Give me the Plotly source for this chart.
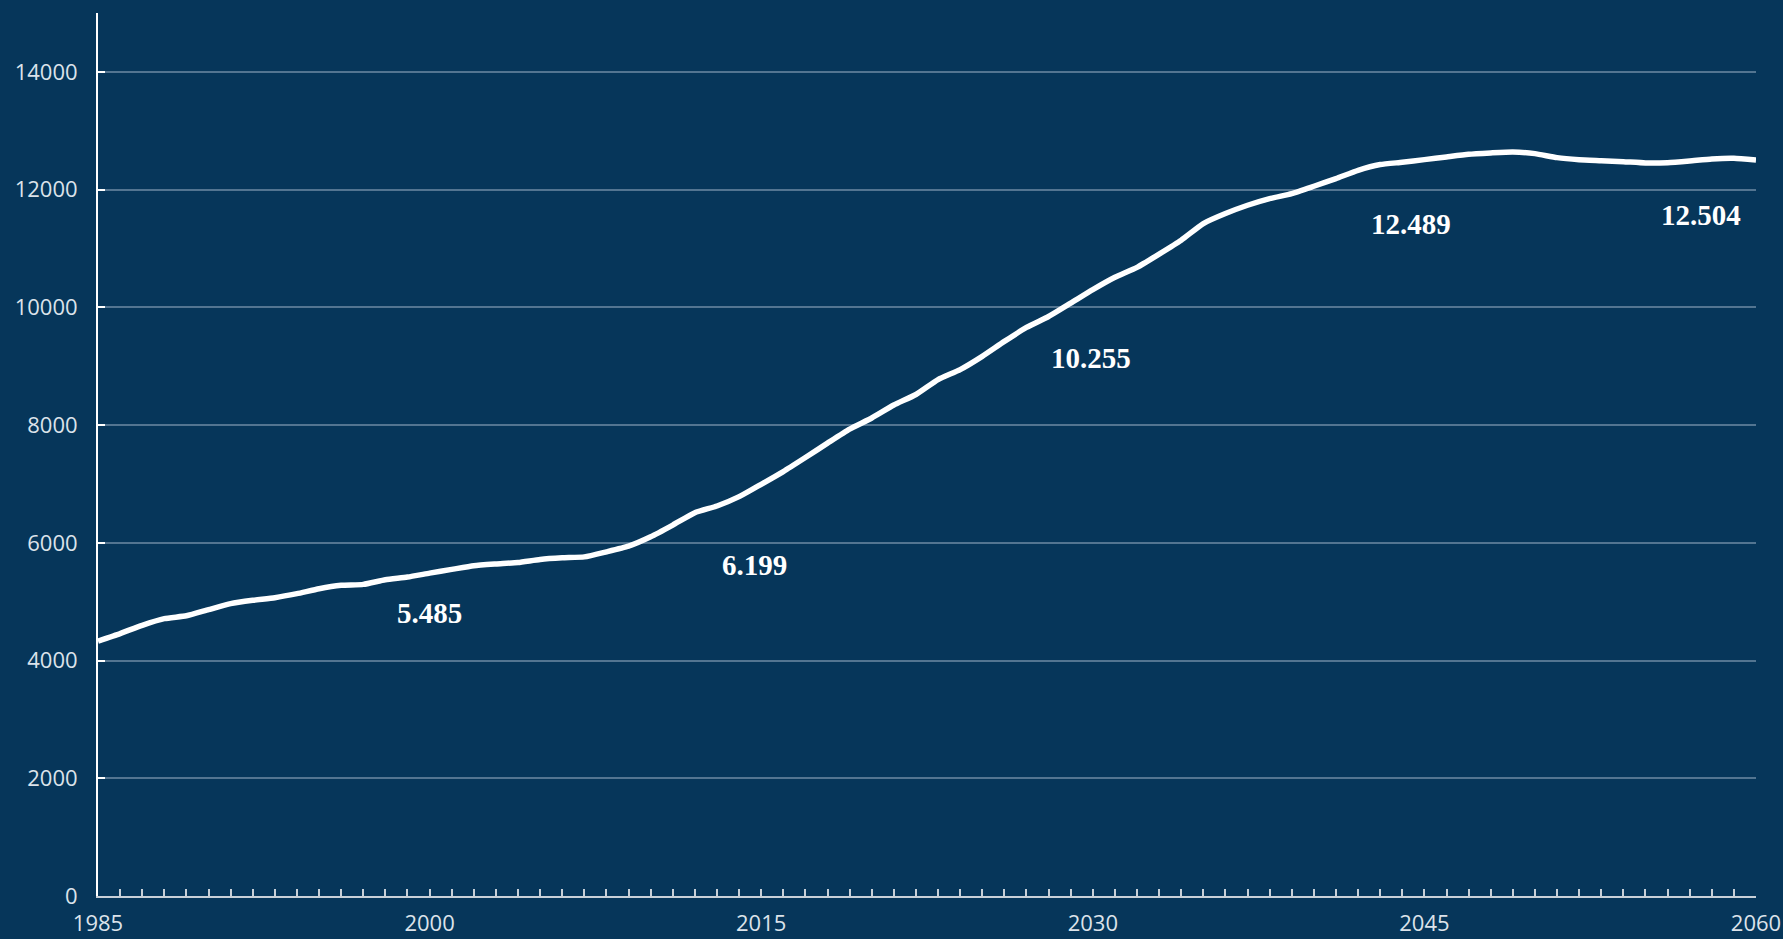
import plotly.graph_objects as go

years = list(range(1985, 2061))
values = [
    4330, 4458, 4599, 4712, 4760, 4864, 4966, 5023, 5068, 5136,
    5220, 5277, 5294, 5373, 5418, 5485, 5548, 5610, 5640, 5665,
    5716, 5744, 5761, 5847, 5943, 6102, 6301, 6511, 6625, 6784,
    6994, 7210, 7448, 7693, 7931, 8120, 8340, 8519, 8773, 8942,
    9167, 9421, 9658, 9844, 10070, 10300, 10510, 10679, 10905, 11141,
    11423, 11593, 11734, 11847, 11932, 12057, 12187, 12328, 12425, 12464,
    12509, 12555, 12600, 12623, 12640, 12611, 12543, 12509, 12492, 12475,
    12453, 12458, 12487, 12521, 12532, 12504,
]

label_texts = ["5.485", "6.199", "10.255", "12.489", "12.504"]
label_x = [2000.0, 2014.7, 2029.9, 2044.4, 2057.5]
label_y = [4814, 5625, 9137, 11419, 11572]

x_tick_vals = [1985, 2000, 2015, 2030, 2045, 2060]
y_tick_vals = [0, 2000, 4000, 6000, 8000, 10000, 12000, 14000]

BG = "#06365A"

fig = go.Figure()
fig.add_trace(go.Scatter(
    x=years, y=values, mode="lines",
    line=dict(color="white", width=5.5, shape="spline", smoothing=0.5),
    hoverinfo="skip", showlegend=False,
))

for t, xx, yy in zip(label_texts, label_x, label_y):
    fig.add_annotation(
        x=xx, y=yy, text=t, showarrow=False,
        font=dict(family="Liberation Serif", size=29, color="white", weight="bold"),
        xanchor="center", yanchor="middle",
    )

fig.update_layout(
    width=1783, height=939,
    paper_bgcolor=BG, plot_bgcolor=BG,
    margin=dict(l=98, r=27, t=13, b=43, autoexpand=False),
    showlegend=False,
    font=dict(family="Open Sans", color="#DCE3EA", size=22),
)

fig.update_xaxes(
    range=[1985, 2060],
    tickmode="array", tickvals=x_tick_vals, tickformat="d",
    ticks="inside", ticklen=7, tickwidth=1.5, tickcolor="#C8D0D8",
    minor=dict(dtick=1, tick0=1985, ticks="inside", ticklen=7, tickwidth=1.5, tickcolor="#C8D0D8", showgrid=False),
    showgrid=False, zeroline=False,
    showline=True, linecolor="#C8D0D8", linewidth=2,
    tickfont=dict(family="Open Sans", size=22, color="#DCE3EA"),
    ticklabelstandoff=7,
    automargin=False,
    fixedrange=True,
)

fig.update_yaxes(
    range=[0, 15000],
    tickmode="array", tickvals=y_tick_vals, tickformat="d",
    ticks="inside", ticklen=7, tickwidth=2, tickcolor="white",
    showgrid=True, gridcolor="rgba(160,180,200,0.5)", gridwidth=1.5,
    zeroline=False,
    showline=True, linecolor="white", linewidth=2,
    tickfont=dict(family="Open Sans", size=22, color="#DCE3EA"),
    ticklabelstandoff=14,
    automargin=False,
    fixedrange=True,
)

post = (
    "document.documentElement.style.margin='0';"
    "document.documentElement.style.overflow='hidden';"
    "document.documentElement.style.background='#06365A';"
    "document.body.style.margin='0';"
    "document.body.style.overflow='hidden';"
    "document.body.style.background='#06365A';"
)

fig.write_html(
    "out.html",
    config={"displayModeBar": False},
    post_script=post,
)
